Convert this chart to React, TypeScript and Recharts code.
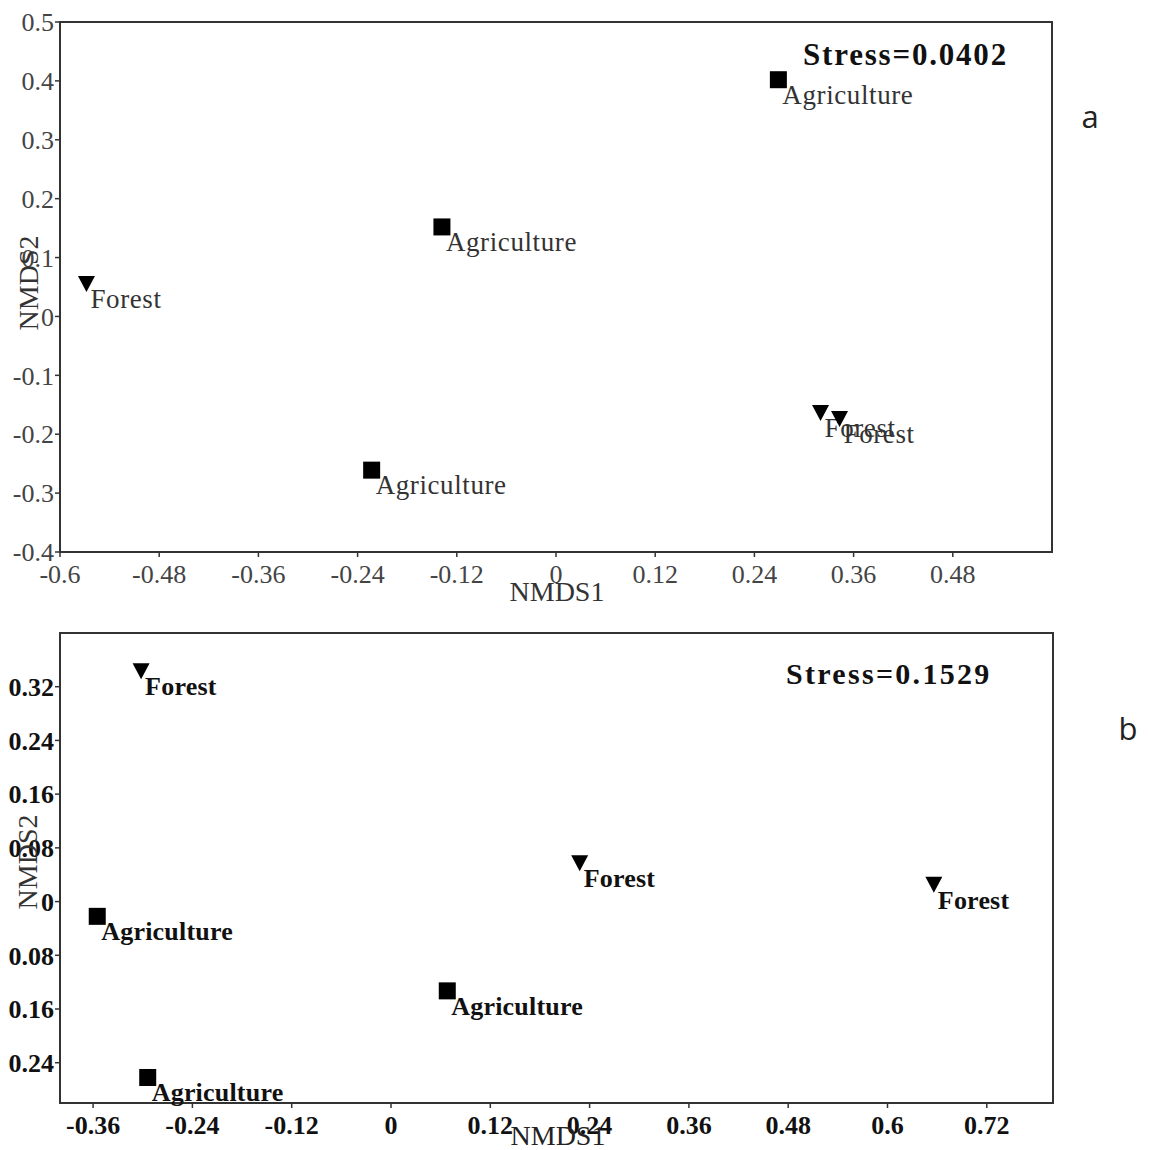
import React from 'react';
import { ScatterChart, Scatter, XAxis, YAxis, ReferenceArea } from 'recharts';

const SERIF = '"Liberation Serif", "Times New Roman", serif';
const SANS = '"Open Sans", "Liberation Sans", sans-serif';

// Panel a
const topXTicks = [-0.6, -0.48, -0.36, -0.24, -0.12, 0, 0.12, 0.24, 0.36, 0.48];
const topYTicks = [-0.4, -0.3, -0.2, -0.1, 0, 0.1, 0.2, 0.3, 0.4, 0.5];
const topAgriculture = [
  { x: 0.269, y: 0.402 },
  { x: -0.138, y: 0.152 },
  { x: -0.223, y: -0.261 },
];
const topForest = [
  { x: -0.568, y: 0.055 },
  { x: 0.32, y: -0.164 },
  { x: 0.343, y: -0.174 },
];

// Panel b
const bottomXTicks = [-0.36, -0.24, -0.12, 0, 0.12, 0.24, 0.36, 0.48, 0.6, 0.72];
const bottomYTicks = [-0.24, -0.16, -0.08, 0, 0.08, 0.16, 0.24, 0.32];
const bottomAgriculture = [
  { x: -0.355, y: -0.022 },
  { x: 0.068, y: -0.133 },
  { x: -0.294, y: -0.262 },
];
const bottomForest = [
  { x: -0.302, y: 0.343 },
  { x: 0.228, y: 0.057 },
  { x: 0.656, y: 0.025 },
];

const makeShape = (kind: 'square' | 'triangle', label: string, bold: boolean) => (props: any) => {
  const { cx, cy } = props;
  if (cx == null || cy == null) return <g />;
  const fontSize = bold ? 26 : 27;
  return (
    <g>
      {kind === 'square' ? (
        <rect x={cx - 8.5} y={cy - 8.5} width={17} height={17} fill="#000" />
      ) : (
        <polygon points={`${cx - 8.5},${cy - 8} ${cx + 8.5},${cy - 8} ${cx},${cy + 8}`} fill="#000" />
      )}
      <text
        x={cx + 4}
        y={cy + 24}
        fontFamily={SERIF}
        fontSize={fontSize}
        fontWeight={bold ? 'bold' : 'normal'}
        letterSpacing={bold ? 0.2 : 0.6}
        fill={bold ? '#111' : '#333'}
      >
        {label}
      </text>
    </g>
  );
};

const fmtTop = (v: number) => String(v);
const fmtBottom = (v: number) => String(Math.abs(v));

export default function App() {
  const axisLine = { stroke: '#333', strokeWidth: 2 };
  const tickLine = { stroke: '#333', strokeWidth: 1.5 };
  const topTick = { fontFamily: SERIF, fontSize: 26, fill: '#444' };
  const bottomTick = { fontFamily: SERIF, fontSize: 26, fill: '#111', fontWeight: 'bold' };
  return (
    <div style={{ position: 'absolute', left: 0, top: 0, width: 1149, height: 1150, background: '#fff' }}>
      <div style={{ position: 'absolute', left: 0, top: 0 }}>
        <ScatterChart width={1149} height={610} margin={{ top: 22, right: 97, left: 0, bottom: 18 }}>
          <XAxis
            type="number"
            dataKey="x"
            domain={[-0.6, 0.6]}
            ticks={topXTicks}
            tickFormatter={fmtTop}
            height={40}
            axisLine={axisLine}
            tickLine={tickLine}
            tickSize={5}
            tickMargin={8}
            tick={topTick}
            interval={0}
          />
          <YAxis
            type="number"
            dataKey="y"
            domain={[-0.4, 0.5]}
            ticks={topYTicks}
            tickFormatter={fmtTop}
            width={60}
            axisLine={axisLine}
            tickLine={tickLine}
            tickSize={5}
            tickMargin={1}
            tick={topTick}
            interval={0}
          />
          <ReferenceArea x1={-0.6} x2={0.6} y1={-0.4} y2={0.5} fill="none" stroke="#333" strokeWidth={2} ifOverflow="visible" />
          <Scatter data={topAgriculture} isAnimationActive={false} shape={makeShape('square', 'Agriculture', false)} />
          <Scatter data={topForest} isAnimationActive={false} shape={makeShape('triangle', 'Forest', false)} />
        </ScatterChart>
      </div>
      <div style={{ position: 'absolute', left: 0, top: 610 }}>
        <ScatterChart width={1149} height={540} margin={{ top: 23, right: 96, left: 0, bottom: 7 }}>
          <XAxis
            type="number"
            dataKey="x"
            domain={[-0.4, 0.8]}
            ticks={bottomXTicks}
            tickFormatter={fmtTop}
            height={40}
            axisLine={axisLine}
            tickLine={tickLine}
            tickSize={5}
            tickMargin={8}
            tick={bottomTick}
            interval={0}
          />
          <YAxis
            type="number"
            dataKey="y"
            domain={[-0.3, 0.4]}
            ticks={bottomYTicks}
            tickFormatter={fmtBottom}
            width={60}
            axisLine={axisLine}
            tickLine={tickLine}
            tickSize={5}
            tickMargin={1}
            tick={bottomTick}
            interval={0}
          />
          <ReferenceArea x1={-0.4} x2={0.8} y1={-0.3} y2={0.4} fill="none" stroke="#333" strokeWidth={2} ifOverflow="visible" />
          <Scatter data={bottomAgriculture} isAnimationActive={false} shape={makeShape('square', 'Agriculture', true)} />
          <Scatter data={bottomForest} isAnimationActive={false} shape={makeShape('triangle', 'Forest', true)} />
        </ScatterChart>
      </div>
      <svg width={1149} height={1150} style={{ position: 'absolute', left: 0, top: 0, pointerEvents: 'none' }}>
        <text x={803} y={65} fontFamily={SERIF} fontSize={31} fontWeight="bold" letterSpacing={1.8} fill="#111">Stress=0.0402</text>
        <text x={557} y={601} textAnchor="middle" fontFamily={SERIF} fontSize={28} fill="#333">NMDS1</text>
        <text x={28} y={283} textAnchor="middle" dominantBaseline="central" transform="rotate(-90, 28, 283)" fontFamily={SERIF} fontSize={28} fill="#333">NMDS2</text>
        <text x={1090} y={128} textAnchor="middle" fontFamily={SANS} fontSize={31} fill="#222">a</text>
        <text x={786} y={684} fontFamily={SERIF} fontSize={30} fontWeight="bold" letterSpacing={2.3} fill="#111">Stress=0.1529</text>
        <text x={558} y={1145} textAnchor="middle" fontFamily={SERIF} fontSize={28} fill="#222">NMDS1</text>
        <text x={27} y={862} textAnchor="middle" dominantBaseline="central" transform="rotate(-90, 27, 862)" fontFamily={SERIF} fontSize={28} fill="#333">NMDS2</text>
        <text x={1128} y={740} textAnchor="middle" fontFamily={SANS} fontSize={31} fill="#222">b</text>
      </svg>
    </div>
  );
}
